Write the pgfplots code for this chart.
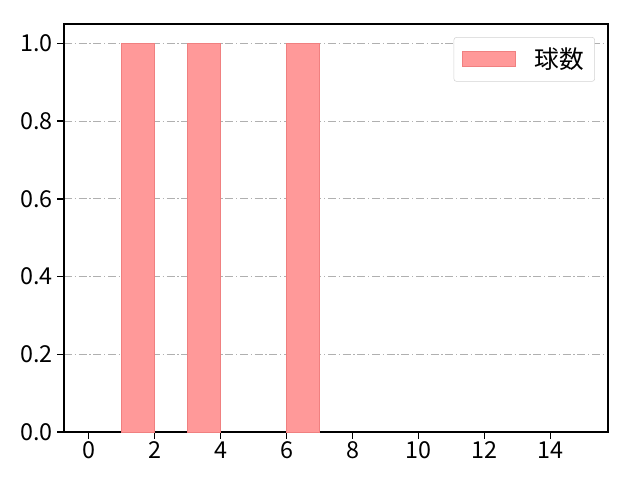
\documentclass[border=0pt]{standalone}
\usepackage{pgfplots}
\pgfplotsset{compat=1.18}
\usepackage{fontspec}
\setmainfont{Noto Sans CJK JP}
\definecolor{barfill}{HTML}{FF9999}
\definecolor{baredge}{HTML}{F08080}
\definecolor{gridgray}{HTML}{B0B0B0}
\begin{document}
\begin{tikzpicture}
\useasboundingbox (0,0) rectangle (480pt,360pt);
\begin{axis}[
    at={(48pt,36pt)}, anchor=south west,
    scale only axis,
    width=408pt, height=306pt,
    xmin=-0.75, xmax=15.75,
    ymin=0, ymax=1.05,
    xtick={0,2,...,14},
    ytick={0,0.2,...,1.0},
    yticklabel style={/pgf/number format/fixed,/pgf/number format/fixed zerofill,/pgf/number format/precision=1},
    /pgf/number format/assume math mode=true,
    tick label style={font=\fontsize{17.5}{20}\selectfont},
    xticklabel style={yshift=1pt},
    axis line style={line width=1pt},
    major tick style={line width=1pt, black},
    tick align=outside,
    major tick length=5pt,
    xtick pos=bottom, ytick pos=left,
    ymajorgrids,
    grid style={gridgray, line width=0.6pt, dash pattern=on 6pt off 2pt on 1pt off 2pt},
    legend style={at={(0.976,0.968)}, anchor=north east, draw=gray!35, rounded corners=2pt,
        font=\fontsize{18.5}{21}\selectfont, inner xsep=6pt, inner ysep=6pt,
        /tikz/every even column/.append style={column sep=4pt}},
    legend image code/.code={\draw[#1, sharp corners] (0pt,-5.5pt) rectangle (40pt,6pt);},
]
\addplot[ybar interval, fill=barfill, draw=baredge, line width=0.6pt] coordinates {(1,1) (2,1)};
\addlegendentry{\hspace{12pt}球数}
\addplot[ybar interval, fill=barfill, draw=baredge, line width=0.6pt, forget plot] coordinates {(3,1) (4,1)};
\addplot[ybar interval, fill=barfill, draw=baredge, line width=0.6pt, forget plot] coordinates {(6,1) (7,1)};
\end{axis}
\end{tikzpicture}
\end{document}
